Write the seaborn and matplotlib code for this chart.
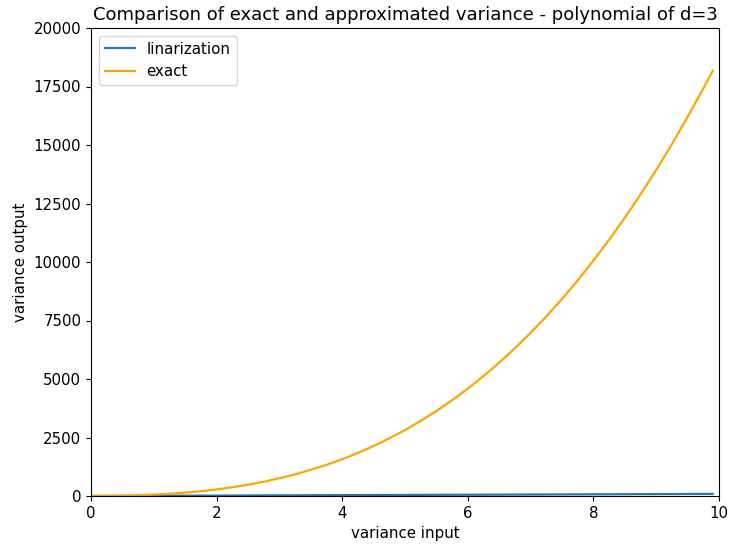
import matplotlib
matplotlib.use("Agg")
import matplotlib.pyplot as plt
import seaborn as sns
import pandas as pd

variance_input = [0, 0.25, 0.5, 0.75, 1, 1.25, 1.5, 1.75, 2, 2.25, 2.5, 2.75,
                  3, 3.25, 3.5, 3.75, 4, 4.25, 4.5, 4.75, 5, 5.25, 5.5, 5.75,
                  6, 6.25, 6.5, 6.75, 7, 7.25, 7.5, 7.75, 8, 8.25, 8.5, 8.75,
                  9, 9.25, 9.5, 9.75, 9.9]
linarization = [0, 2, 5, 7, 9, 11, 14, 16, 18, 20, 23, 25, 27, 29, 32, 34,
                36, 38, 41, 43, 45, 47, 50, 52, 54, 56, 59, 61, 63, 65, 68,
                70, 72, 74, 77, 79, 81, 83, 86, 88, 89]
exact = [0, 5, 15, 33, 60, 97, 145, 206, 280, 373, 480, 609, 760, 924, 1120,
         1331, 1570, 1840, 2140, 2463, 2820, 3210, 3630, 4094, 4590, 5125,
         5700, 6314, 6970, 7673, 8420, 9214, 10060, 10947, 11890, 12884,
         13930, 15035, 16200, 17412, 18170]

df = pd.DataFrame({"x": variance_input, "lin": linarization, "exact": exact})

plt.rcParams["font.size"] = 10.8
plt.rcParams["lines.linewidth"] = 1.6

fig = plt.figure(figsize=(7.29, 5.47), dpi=100)
ax = fig.add_axes([91 / 729, 51 / 547, (719 - 91) / 729, (496 - 28) / 547])

sns.lineplot(data=df, x="x", y="lin", ax=ax, color="#1f77b4", label="linarization")
sns.lineplot(data=df, x="x", y="exact", ax=ax, color="orange", label="exact")

ax.set_xlim(0, 10)
ax.set_ylim(0, 20000)
ax.set_xlabel("variance input")
ax.set_ylabel("variance output")
ax.set_title("Comparison of exact and approximated variance - polynomial of d=3")
ax.legend(loc="upper left")

fig.savefig("out.png", dpi=100)
